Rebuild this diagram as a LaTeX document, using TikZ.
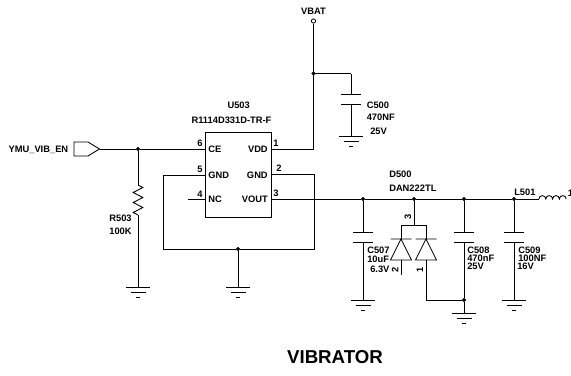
\documentclass[tikz,border=0pt]{standalone}
\usepackage{fontspec}
\setmainfont{Liberation Sans}
\usepackage{tikz}
\usetikzlibrary{decorations.pathmorphing}
\tikzset{
		wire/.style={line width=0.65pt},
		label text/.style={font=\fontsize{7}{8}\selectfont\bfseries, inner sep=0pt},
		pin text/.style={font=\fontsize{7}{8}\selectfont\bfseries, inner sep=0pt},
		junction/.style={circle, fill=black, draw=black, inner sep=0pt, minimum size=2.5pt},
		terminal/.style={circle, fill=white, draw=black, line width=0.6pt, inner sep=0pt, minimum size=3.2pt},
		resistor/.style={decorate, decoration={zigzag, amplitude=3.6pt, segment length=7.5pt}},
		gnd/.pic={\draw[wire] (-12,0) -- (12,0) (-7.5,5) -- (7.5,5) (-2,10) -- (2,10);},
		capplates/.pic={\draw[wire] (-10,-5) -- (10,-5) (-10,5) -- (10,5);},
		diode/.pic={\draw[wire] (-10.5,0) -- (10.5,0) (0,0) -- (-10.5,21) -- (10.5,21) -- cycle;}
	}
\begin{document}
\begin{tikzpicture}[x=0.75pt,y=-0.75pt]
		\useasboundingbox (0,0) rectangle (571,375);

		% regulator
		\node[draw, line width=0.65pt, minimum width=49.5pt, minimum height=63.75pt, inner sep=0pt] (u503) at (238,174.5) {};
		\node[label text] (u503ref)  at (238.7,105.5) {U503};
		\node[label text] (u503name) at (231.5,120.5) {R1114D331D-TR-F};
		\node[pin text, anchor=west] (ce)   at (208,149.5) {CE};
		\node[pin text, anchor=west] (gndl) at (208,175)   {GND};
		\node[pin text, anchor=west] (nc)   at (208,199.5) {NC};
		\node[pin text, anchor=east] (vdd)  at (268,149.5) {VDD};
		\node[pin text, anchor=east] (gndr) at (268,175)   {GND};
		\node[pin text, anchor=east] (vout) at (268,199.5) {VOUT};
		\node[pin text] (p6) at (200,143.5) {6};
		\node[pin text] (p5) at (200,169) {5};
		\node[pin text] (p4) at (200,194) {4};
		\node[pin text] (p1) at (276,143) {1};
		\node[pin text] (p2) at (279,168) {2};
		\node[pin text] (p3) at (276,193) {3};

		% pin ends on the box
		\coordinate (pce)   at (205,149);
		\coordinate (pgndl) at (205,175);
		\coordinate (pnc)   at (205,199);
		\coordinate (pvdd)  at (271,149);
		\coordinate (pgndr) at (271,174);
		\coordinate (pvout) at (271,199);
		\coordinate (ncend) at (188,199);

		% input and VBAT
		\node[label text, anchor=east] (ymu) at (68.5,149.5) {YMU\_VIB\_EN};
		\coordinate (port) at (99.5,149);
		\draw[wire] (74,142) -- (88,142) -- (port) -- (88,156) -- (74,156) -- cycle;
		\node[junction] (j1) at (138,149) {};
		\path[wire] (port) edge (j1);
		\path[wire] (j1) edge (pce);
		\coordinate (r1) at (138,185);
		\coordinate (r2) at (138,215);
		\coordinate (g1) at (138,287);
		\path[wire] (j1) edge (r1);
		\draw[wire, resistor] (r1) -- (r2);
		\path[wire] (r2) edge (g1);
		\pic at (g1) {gnd};
		\node[label text] (r503)  at (120.5,218.5) {R503};
		\node[label text] (r100k) at (120.5,231) {100K};
		\path[wire] (pnc) edge (ncend);

		\node[terminal] (vbat) at (313.5,21) {};
		\node[label text] (vbatname) at (313.5,11) {VBAT};
		\node[junction] (j2) at (313.5,73.5) {};
		\coordinate (vddc) at (313.5,149);
		\path[wire] (vbat) edge (j2);
		\path[wire] (j2) edge (vddc);
		\path[wire] (vddc) edge (pvdd);
		\coordinate (c500top) at (351,73.5);
		\coordinate (c500) at (351,99);
		\coordinate (c500a) at (351,94);
		\coordinate (c500b) at (351,104);
		\coordinate (g2) at (351,136);
		\path[wire] (j2) edge (c500top);
		\path[wire] (c500top) edge (c500a);
		\path[wire] (c500b) edge (g2);
		\pic at (c500) {capplates};
		\pic at (g2) {gnd};
		\node[label text, anchor=west] (c500ref) at (366.5,105.5) {C500};
		\node[label text, anchor=west] (c500val) at (366.5,117.5) {470NF};
		\node[label text, anchor=west] (c500v)   at (370,131)     {25V};

		% ground loop
		\coordinate (l1) at (163,175);
		\coordinate (l2) at (163,249);
		\coordinate (l3) at (314,249);
		\coordinate (l4) at (314,174);
		\node[junction] (j3) at (238,249) {};
		\coordinate (g3) at (238,287);
		\draw[wire] (pgndl) -- (l1) -- (l2) -- (j3) -- (l3) -- (l4) -- (pgndr);
		\path[wire] (j3) edge (g3);
		\pic at (g3) {gnd};

		% output rail
		\node[junction] (j4) at (363,199) {};
		\node[junction] (j5) at (414,199) {};
		\node[junction] (j6) at (464,199) {};
		\node[junction] (j7) at (514,199) {};
		\coordinate (l501b) at (539,199);
		\path[wire] (pvout) edge (j4);
		\path[wire] (j4) edge (j5);
		\path[wire] (j5) edge (j6);
		\path[wire] (j6) edge (j7);
		\path[wire] (j7) edge (l501b);
		\draw[wire] (l501b) arc (180:360:3.4) arc (180:360:3.4) arc (180:360:3.4) arc (180:360:3.4);
		\node[label text, anchor=west] (l501) at (514,192.5) {L501};
		\node[pin text, anchor=west] (l501p) at (567.5,193) {1};

		% C507, C508, C509
		\foreach \name/\xc/\pin/\gy in {c507/363/j4/300, c508/464/j6/300, c509/514/j7/300} {
			\coordinate (\name) at (\xc,237);
			\coordinate (\name a) at (\xc,232);
			\coordinate (\name b) at (\xc,242);
			\coordinate (\name g) at (\xc,\gy);
			\path[wire] (\pin) edge (\name a);
			\pic at (\name) {capplates};
		}
		\path[wire] (c507b) edge (c507g);
		\pic at (c507g) {gnd};
		\node[junction] (j8) at (464,300) {};
		\coordinate (g4) at (464,313);
		\path[wire] (c508b) edge (j8);
		\path[wire] (j8) edge (g4);
		\pic at (g4) {gnd};
		\path[wire] (c509b) edge (c509g);
		\pic at (c509g) {gnd};

		\node[label text, anchor=west] (c507ref) at (367,250) {C507};
		\node[label text, anchor=west] (c507val) at (367,259) {10uF};
		\node[label text, anchor=west] (c507v)   at (370,269) {6.3V};
		\node[label text, anchor=west] (c508ref) at (467,250) {C508};
		\node[label text, anchor=west] (c508val) at (467,258.5) {470nF};
		\node[label text, anchor=west] (c508v)   at (467,266) {25V};
		\node[label text, anchor=west] (c509ref) at (518,250) {C509};
		\node[label text, anchor=west] (c509val) at (518,258.5) {100NF};
		\node[label text, anchor=west] (c509v)   at (517,266) {16V};

		% D500
		\node[label text, anchor=west] (d500)     at (389,174.5) {D500};
		\node[label text, anchor=west] (d500name) at (389,188)   {DAN222TL};
		\coordinate (d3) at (414,225);
		\coordinate (d2top) at (401,225);
		\coordinate (d1top) at (426,225);
		\coordinate (d2) at (401,239);
		\coordinate (d1) at (426,239);
		\coordinate (d2base) at (401,260);
		\coordinate (d1base) at (426,260);
		\coordinate (d2end) at (401,275);
		\coordinate (d1end) at (426,300);
		\path[wire] (j5) edge (d3);
		\draw[wire] (d2) -- (d2top) -- (d1top) -- (d1);
		\pic at (d2) {diode};
		\pic at (d1) {diode};
		\path[wire] (d2base) edge (d2end);
		\path[wire] (d1base) edge (d1end);
		\path[wire] (d1end) edge (j8);
		\node[pin text, rotate=90] (d3pin) at (408,217) {3};
		\node[pin text, rotate=90] (d2pin) at (395,270) {2};
		\node[pin text, rotate=90] (d1pin) at (420,270) {1};

		\node[font=\fontsize{14}{16}\selectfont\bfseries, inner sep=0pt] (title) at (335,357.5) {VIBRATOR};
	\end{tikzpicture}
\end{document}
